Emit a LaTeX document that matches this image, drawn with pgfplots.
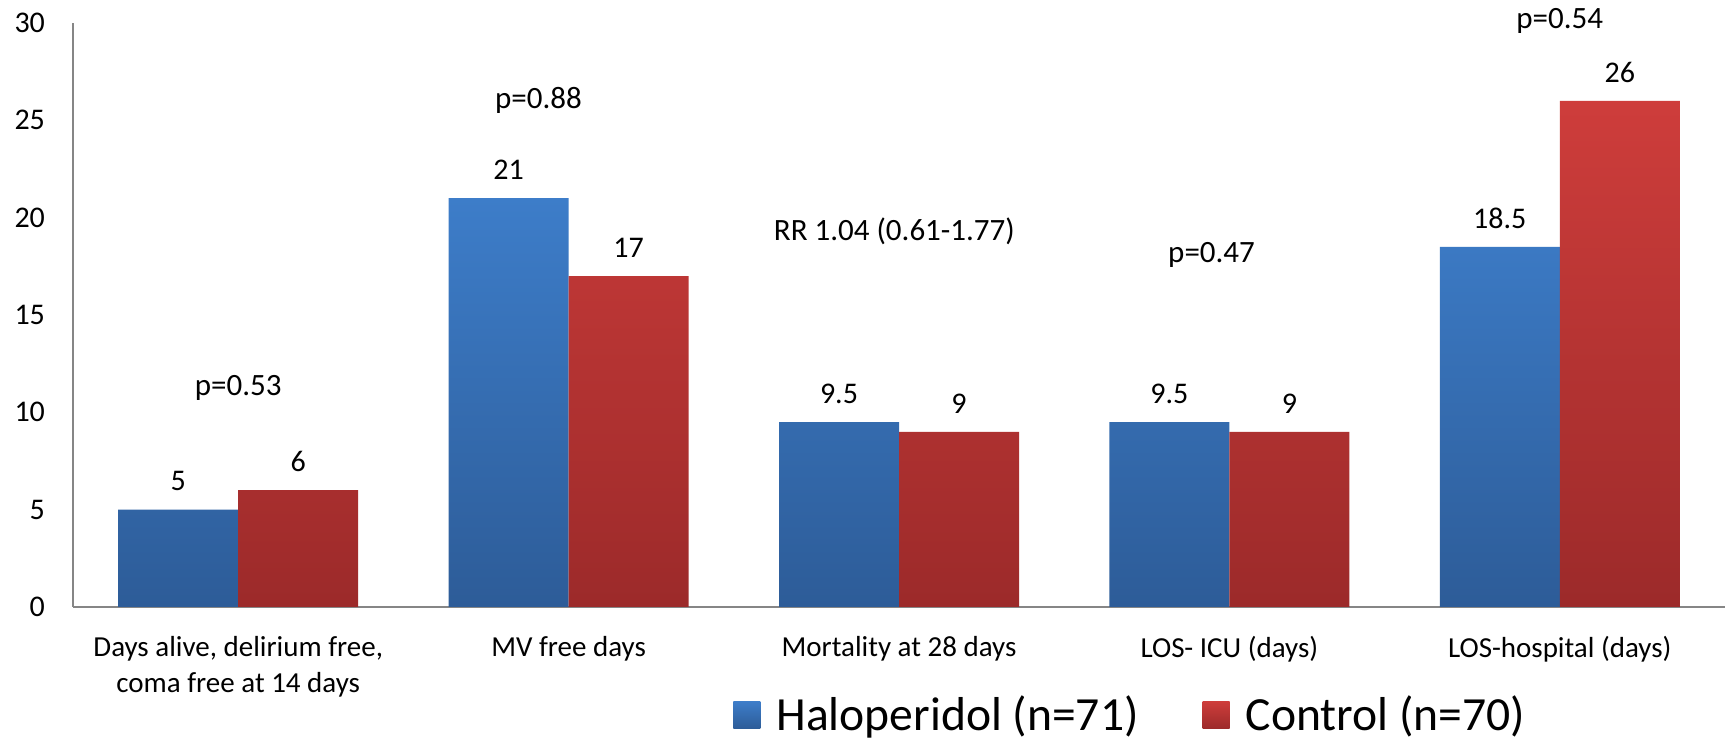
\documentclass[border=0pt]{standalone}
\usepackage{fontspec}
\setmainfont{Carlito}
\usepackage{pgfplots}
\pgfplotsset{compat=1.18}
\definecolor{blueT}{RGB}{61,125,201}
\definecolor{blueB}{RGB}{45,92,152}
\definecolor{redT}{RGB}{206,61,59}
\definecolor{redB}{RGB}{156,42,42}
\definecolor{axgray}{RGB}{134,134,134}
\begin{document}
\begin{tikzpicture}
\begin{axis}[
  name=ax,
  scale only axis,
  width=826pt, height=292pt,
  xmin=-0.5, xmax=4.5, ymin=0, ymax=30,
  axis x line=bottom, axis y line=left,
  axis line style={-, draw=axgray, line width=1pt},
  major tick length=0pt,
  ybar=0pt, bar width=60pt,
  ytick={0,5,...,30},
  xtick={0,1,2,3,4},
  xticklabels={{Days alive, delirium free,\\coma free at 14 days},{MV free days},{Mortality at 28 days},{LOS- ICU (days)},{LOS-hospital (days)}},
  /pgf/number format/assume math mode=true,
  yticklabel style={font=\fontsize{15}{15}\selectfont, xshift=-10.5pt},
  xticklabel style={align=center, font=\fontsize{14.5}{18}\selectfont, yshift=-11pt},
  nodes near coords,
  nodes near coords style={font=\fontsize{15}{15}\selectfont, anchor=south, yshift=5.75pt, text=black},
  clip=false,
  legend columns=2,
  legend style={draw=none, fill=none, at={(0.3995,-0.1850)}, anchor=west, inner sep=0pt,
    font=\fontsize{23.8}{23.8}\selectfont,
    /tikz/every even column/.append style={column sep=30pt}},
  legend image code/.code={\path[#1,draw=none] (0pt,-6.75pt) rectangle (13.5pt,6.75pt);\path (0pt,0pt) -- (19.5pt,0pt);},
]
\addplot[draw=none, top color=blueT, bottom color=blueB] coordinates {(0,5) (1,21) (2,9.5) (3,9.5) (4,18.5)};
\addplot[draw=none, top color=redT, bottom color=redB] coordinates {(0,6) (1,17) (2,9) (3,9) (4,26)};
\legend{Haloperidol (n=71), Control (n=70)}
\node[font=\fontsize{15.5}{15.5}\selectfont] at (axis cs:0,11.25) {p=0.53};
\node[font=\fontsize{15.5}{15.5}\selectfont] at (axis cs:0.909,26.0) {p=0.88};
\node[font=\fontsize{15.5}{15.5}\selectfont] at (axis cs:1.986,19.28) {RR 1.04 (0.61-1.77)};
\node[font=\fontsize{15.5}{15.5}\selectfont] at (axis cs:2.946,18.08) {p=0.47};
\node[font=\fontsize{15.5}{15.5}\selectfont] at (axis cs:4.0,30.08) {p=0.54};
\end{axis}
\pgfresetboundingbox
\path[use as bounding box] ([xshift=-36.5pt,yshift=-67pt]ax.south west) rectangle ([xshift=1pt,yshift=11.5pt]ax.north east);
\end{tikzpicture}
\end{document}
